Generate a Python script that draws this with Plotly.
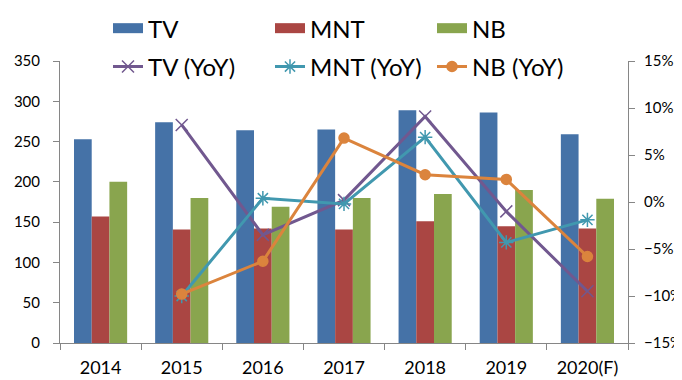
import plotly.graph_objects as go

years = ["2014", "2015", "2016", "2017", "2018", "2019", "2020(F)"]
tv = [253, 274, 264, 265, 289, 286, 259]
mnt = [157, 141, 142, 141, 151, 145, 142]
nb = [200, 180, 169, 180, 185, 190, 179]
tv_yoy = [None, 0.082, -0.035, 0.002, 0.091, -0.010, -0.095]
mnt_yoy = [None, -0.100, 0.004, -0.002, 0.069, -0.043, -0.019]
nb_yoy = [None, -0.098, -0.063, 0.068, 0.029, 0.024, -0.058]

FONT = "Lato"
fig = go.Figure()

bar_colors = ["#4572A7", "#AA4643", "#89A54E"]
for name, vals, c in zip(["TV", "MNT", "NB"], [tv, mnt, nb], bar_colors):
    fig.add_trace(go.Bar(x=years, y=vals, name=name, marker_color=c,
                         marker_line_width=0, showlegend=False))
# legend swatches for the bar series (wide rectangles like the reference)
for name, c in zip(["TV", "MNT", "NB"], bar_colors):
    fig.add_trace(go.Scatter(x=[None], y=[None], name=name, mode="lines",
                             line=dict(color=c, width=15), legend="legend",
                             hoverinfo="skip"))

line_specs = [
    ("TV (YoY)", tv_yoy, "#71588F", "x-thin-open", 12),
    ("MNT (YoY)", mnt_yoy, "#4198AF", "asterisk-open", 12),
    ("NB (YoY)", nb_yoy, "#DB843D", "circle", 10),
]
for name, vals, c, sym, sz in line_specs:
    fig.add_trace(go.Scatter(x=years, y=vals, name=name, yaxis="y2",
                             mode="lines+markers",
                             line=dict(color=c, width=3),
                             marker=dict(symbol=sym, size=sz, color=c,
                                         line=dict(color=c, width=1.5)),
                             legend="legend2"))

axis_common = dict(showline=True, linecolor="#868686", linewidth=1,
                   ticks="outside", tickcolor="#868686", ticklen=6,
                   showgrid=False, zeroline=False, automargin=False)

leg_common = dict(orientation="h", x=0.0845, xanchor="left", yanchor="middle",
                  entrywidth=117, entrywidthmode="pixels",
                  font=dict(family=FONT, size=24), bgcolor="rgba(0,0,0,0)",
                  itemwidth=30)

fig.update_layout(
    width=682, height=380,
    margin=dict(l=52, r=62, t=53, b=45, autoexpand=False),
    paper_bgcolor="white", plot_bgcolor="white",
    barmode="group", bargap=0.345, bargroupgap=0,
    font=dict(family=FONT, color="black"),
    xaxis=dict(**axis_common, tickson="boundaries", ticklabelstandoff=8,
               tickfont=dict(family=FONT, size=18, color="black")),
    yaxis=dict(**axis_common, range=[0, 350], dtick=50, ticklabelstandoff=10,
               tickfont=dict(family=FONT, size=15, color="black")),
    yaxis2=dict(**axis_common, overlaying="y", side="right",
                range=[-0.15, 0.15], dtick=0.05, tickformat=".0%",
                ticklabelstandoff=6,
                tickfont=dict(family=FONT, size=15, color="black")),
    legend=dict(**leg_common, y=1.115),
    legend2=dict(**leg_common, y=0.979),
    showlegend=True,
)

fig.write_html("out.html")
